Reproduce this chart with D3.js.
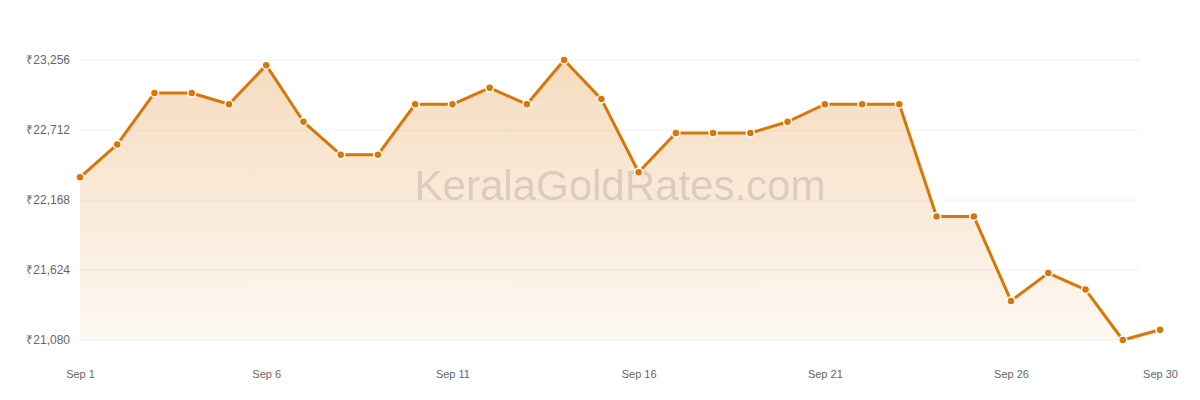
<!DOCTYPE html>
<html>
<head>
<meta charset="utf-8">
<script src="https://cdn.jsdelivr.net/npm/d3@7"></script>
<style>
  body { margin: 0; background: #fff; }
  svg { display: block; font-family: "Liberation Sans", Arial, sans-serif; }
</style>
</head>
<body>
<svg id="chart"></svg>
<script>
// daily rates, Sep 1 .. Sep 30
var days = d3.range(1, 31);
var rates = [22344, 22600, 23000, 23000, 22912, 23216, 22776, 22520, 22520, 22912,
             22912, 23040, 22912, 23256, 22952, 22384, 22688, 22688, 22688, 22776,
             22912, 22912, 22912, 22040, 22040, 21384, 21600, 21472, 21080, 21160];
var yTicks = [21080, 21624, 22168, 22712, 23256];
var xTickDays = [1, 6, 11, 16, 21, 26, 30];

var svgWidth = 1200, svgHeight = 400;
var plotLeft = 80, plotRight = 1140, plotTop = 60, plotBottom = 340;

var svg = d3.select('#chart')
  .attr('width', svgWidth)
  .attr('height', svgHeight);

var xScale = d3.scaleLinear()
  .domain([1, 30])
  .range([plotLeft, 1160]);

var yScale = d3.scaleLinear()
  .domain([21080, 23256])
  .range([plotBottom, plotTop]);

var data = days.map(function(d, i){ return {day: d, rate: rates[i]}; });

var defs = svg.append('defs');
var grad = defs.append('linearGradient')
  .attr('id', 'fillGrad')
  .attr('gradientUnits', 'userSpaceOnUse')
  .attr('x1', 0).attr('y1', plotTop).attr('x2', 0).attr('y2', plotBottom);
grad.append('stop').attr('offset', '0%').attr('stop-color', '#d97706').attr('stop-opacity', 0.26);
grad.append('stop').attr('offset', '100%').attr('stop-color', '#d97706').attr('stop-opacity', 0.05);

defs.append('clipPath').attr('id', 'plotClip')
  .append('rect')
  .attr('x', plotLeft).attr('y', 0)
  .attr('width', plotRight - plotLeft).attr('height', plotBottom);

// grid
svg.append('g').attr('class', 'grid')
  .selectAll('line')
  .data(yTicks)
  .enter()
  .append('line')
  .attr('x1', plotLeft)
  .attr('x2', plotRight)
  .attr('y1', function(d){ return yScale(d); })
  .attr('y2', function(d){ return yScale(d); })
  .attr('stroke', '#f2f2f2')
  .attr('stroke-width', 1);

// area
var area = d3.area()
  .x(function(d){ return xScale(d.day); })
  .y0(plotBottom)
  .y1(function(d){ return yScale(d.rate); });

svg.append('path')
  .datum(data)
  .attr('d', area)
  .attr('fill', 'url(#fillGrad)')
  .attr('clip-path', 'url(#plotClip)');

// watermark
svg.append('text')
  .attr('x', 620)
  .attr('y', 200)
  .attr('text-anchor', 'middle')
  .attr('font-size', 42)
  .attr('fill', '#9a8f86')
  .attr('fill-opacity', 0.32)
  .text('KeralaGoldRates.com');

// y axis labels
var yAxis = d3.axisLeft(yScale)
  .tickValues(yTicks)
  .tickSize(0)
  .tickPadding(10)
  .tickFormat(function(d){ return '₹' + d3.format(',')(d); });

var gy = svg.append('g')
  .attr('transform', 'translate(' + plotLeft + ',0)')
  .call(yAxis);
gy.select('.domain').remove();
gy.selectAll('text')
  .attr('font-size', 12)
  .attr('font-family', '"Liberation Sans", Arial, sans-serif')
  .attr('fill', '#666');

// x axis labels
var xAxis = d3.axisBottom(xScale)
  .tickValues(xTickDays)
  .tickSize(0)
  .tickPadding(0)
  .tickFormat(function(d){ return 'Sep ' + d; });

var gx = svg.append('g')
  .attr('transform', 'translate(0,370)')
  .call(xAxis);
gx.select('.domain').remove();
gx.selectAll('text')
  .attr('font-size', 11)
  .attr('font-family', '"Liberation Sans", Arial, sans-serif')
  .attr('fill', '#666');

// line
var line = d3.line()
  .x(function(d){ return xScale(d.day); })
  .y(function(d){ return yScale(d.rate); });

svg.append('path')
  .datum(data)
  .attr('d', line)
  .attr('fill', 'none')
  .attr('stroke', '#d97706')
  .attr('stroke-width', 3)
  .attr('stroke-linejoin', 'round');

// points
svg.append('g').attr('class', 'points')
  .selectAll('circle')
  .data(data)
  .enter()
  .append('circle')
  .attr('cx', function(d){ return xScale(d.day); })
  .attr('cy', function(d){ return yScale(d.rate); })
  .attr('r', 4)
  .attr('fill', '#d97706')
  .attr('stroke', '#fff')
  .attr('stroke-width', 1.5);
</script>
</body>
</html>
